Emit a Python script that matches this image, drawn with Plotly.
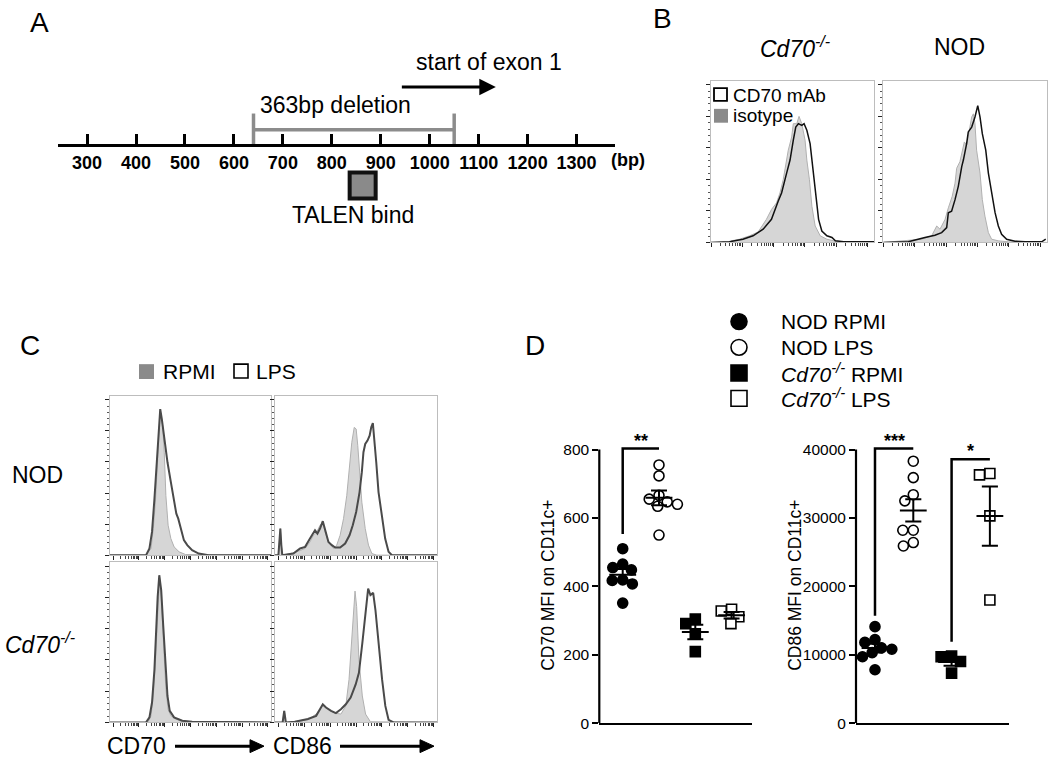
import numpy as np
import plotly.graph_objects as go

W, H = 1050, 768
FONT = "Liberation Sans, Arial, sans-serif"

# ---------------- data ----------------
# panel A (bp)
bp_ticks = [300, 400, 500, 600, 700, 800, 900, 1000, 1100, 1200, 1300]
deletion_bp = [640, 1050]
exon_arrow_bp = [940, 1135]
talen_bp = 863

# panel B histograms (x: channel 0-100, y: % of box height)
b_ko_iso_x = [0, 11.3, 12.4, 17.5, 23.7, 28.9, 34.0, 37.1, 40.2, 42.3, 44.3, 46.4, 47.4, 49.5, 50.5, 52.6, 54.0, 55.7, 57.7, 58.8, 60.4, 61.9, 63.9, 67.0, 71.1, 75.3, 79.4, 100]
b_ko_iso_y = [0, 0, 1, 2, 4.1, 6.5, 14.3, 20.4, 24.5, 30.6, 38.8, 53.1, 57.1, 65.3, 73.5, 73.5, 78, 73.5, 63.3, 51, 38.8, 22.4, 10.2, 4.1, 2, 1, 0, 0]
b_ko_mab_x = [0, 11.3, 19.6, 25.8, 32, 37.1, 41.2, 43.3, 46.4, 48.5, 50.5, 52, 53.6, 55.7, 57.1, 58.8, 60.8, 62.9, 64.5, 66, 68, 71.1, 74.2, 76.3, 81.4, 100]
b_ko_mab_y = [0, 0.4, 2, 4.1, 8.2, 14.3, 25.5, 30.6, 42.9, 51, 63.3, 71.4, 73.5, 72.4, 73.5, 69.4, 61.2, 42.9, 26.5, 14.3, 7.1, 4.1, 3.1, 1, 0.4, 0.4]
b_nod_iso_x = [0, 15.3, 23.5, 29.6, 32.7, 34.7, 37.8, 39.8, 42.2, 43.9, 44.9, 46.9, 48.4, 49.6, 51, 52.4, 54.1, 55.1, 56.1, 57.1, 59.2, 60.6, 62.2, 64.3, 66.3, 70.4, 76.5, 100]
b_nod_iso_y = [0, 1, 2, 4.1, 10.2, 8.2, 14.3, 21.4, 28.6, 36.7, 45.9, 50, 57.1, 62.2, 60.2, 69.4, 77.6, 79.6, 73.5, 57.1, 42.9, 26.5, 16.3, 6.1, 2, 1, 0.4, 0]
b_nod_mab_x = [0, 15.3, 25.5, 31.6, 35.7, 38.8, 39.8, 41.8, 43.9, 45.9, 48, 49, 51, 52, 54.1, 56.1, 57.8, 59.2, 60.6, 62.7, 64.3, 66.3, 68.4, 70.4, 72.4, 75.5, 80.6, 86.7, 96.9, 99.4]
b_nod_mab_y = [0, 0.4, 3.1, 4.5, 6.1, 9.2, 18.4, 19.4, 26.5, 34.7, 46.9, 51, 61.2, 68.4, 71.4, 77.6, 84.7, 77.6, 67.3, 57.1, 42.9, 30.6, 18.4, 10.2, 5.1, 2, 0.8, 0.4, 0.4, 2]

# panel C histograms
c_nod70_rpmi_x = [0, 22.4, 25.5, 26.9, 28.2, 29.2, 30.2, 31.2, 32.7, 33.7, 34.7, 36.1, 37.8, 39.8, 42.9, 46.9, 100]
c_nod70_rpmi_y = [0, 0, 4.2, 16.7, 33.3, 54.2, 75, 90.6, 81.3, 64.6, 37.5, 18.8, 10.4, 5.2, 2.1, 0.4, 0]
c_nod70_lps_x = [0, 22.4, 24.5, 26.1, 27.6, 29, 30.2, 31.2, 32.2, 33.7, 35.7, 37.8, 39.8, 41.2, 42.4, 43.9, 45.9, 48, 51, 55.1, 61.2, 100]
c_nod70_lps_y = [0, 0, 4.2, 14.6, 35.4, 60.4, 81.3, 91.7, 85.4, 72.9, 58.3, 45.8, 35.4, 26, 22.9, 16.7, 9.4, 6.3, 3.1, 1, 0, 0]
c_nod86_rpmi_x = [0, 2.1, 2.7, 3.3, 3.9, 4.5, 7.2, 13.4, 18.6, 21.6, 23.7, 25.8, 27.8, 29.5, 30.9, 33, 36.1, 38.1, 40.2, 42.3, 44.3, 46, 47.4, 48.9, 50.1, 51.1, 52.2, 53.6, 55.7, 57.7, 59.8, 62.9, 100]
c_nod86_rpmi_y = [0, 0, 8.3, 16.7, 6.3, 0, 0.4, 2.1, 4.2, 8.3, 12.5, 14.6, 18.8, 20.8, 14.6, 8.3, 4.2, 6.3, 12.5, 22.9, 37.5, 54.2, 70.8, 80.2, 79.2, 68.8, 52.1, 33.3, 16.7, 6.3, 1, 0, 0]
c_nod86_lps_x = [0, 2.1, 2.7, 3.3, 3.9, 4.5, 7.2, 11.3, 15.5, 18.6, 21.6, 23.7, 24.7, 26.2, 27.8, 29.5, 30.9, 33, 35.1, 37.1, 40.2, 43.3, 46, 48, 50.1, 52.2, 53.6, 54.6, 55.7, 57.1, 58.4, 59.4, 60.4, 61.2, 62.5, 63.9, 66, 68, 70.1, 72.2, 100]
c_nod86_lps_y = [0, 0, 8.3, 16.7, 6.3, 0, 0.4, 1, 4.2, 5.2, 10.4, 14.6, 15.6, 13.5, 16.7, 21.3, 16.7, 8.3, 6.3, 4.8, 4.8, 7.3, 12.5, 18.8, 27.1, 39.6, 52.1, 64.6, 69.8, 71.9, 75, 80.2, 82.9, 75, 58.3, 39.6, 22.9, 10.4, 2.1, 0, 0]
c_ko70_rpmi_x = [0, 23.5, 25.5, 26.9, 28.2, 29.2, 30, 30.8, 31.6, 32.7, 33.7, 34.7, 36.1, 37.8, 40.8, 44.9, 100]
c_ko70_rpmi_y = [0, 0, 4.1, 16.5, 37.1, 59.8, 78.4, 91.1, 82.5, 61.9, 39.2, 20.6, 8.2, 4.1, 2.1, 0.4, 0]
c_ko70_lps_x = [0, 22.4, 24.5, 26.1, 27.6, 28.6, 29.6, 30.6, 31.8, 33.1, 34.3, 35.7, 37.1, 39.8, 44.9, 51, 100]
c_ko70_lps_y = [0, 0, 3.1, 12.4, 33, 57.7, 78.4, 91.8, 82.5, 59.8, 37.1, 16.5, 7.2, 3.1, 1, 0.4, 0]
c_ko86_rpmi_x = [0, 4.7, 5.7, 6.7, 12.2, 20.3, 25.4, 29.5, 32.5, 36.6, 40.7, 43.7, 45.7, 47.4, 48.4, 49.4, 50.4, 51.8, 53.9, 55.9, 58.9, 100]
c_ko86_rpmi_y = [0, 0, 7.2, 0, 0.4, 1.6, 5.2, 10.3, 8.7, 5.8, 5.2, 10.3, 26.8, 55.7, 72.2, 81.9, 72.2, 39.2, 16.5, 5.2, 0.4, 0]
c_ko86_lps_x = [0, 4.7, 5.7, 6.7, 12.2, 20.3, 25.4, 27.4, 29.5, 31.5, 34.6, 37.6, 40.7, 43.7, 46.7, 49.8, 51.8, 53.9, 55.9, 57.5, 58.9, 60.6, 62, 64, 66.1, 68.1, 70.1, 73.2, 100]
c_ko86_lps_y = [0, 0, 7.2, 0, 0.4, 2.1, 4.1, 7.2, 11.3, 9.3, 7.2, 5.8, 8.2, 11.3, 15.5, 23.7, 30.9, 49.5, 70.1, 83.5, 79.4, 80.8, 70.1, 47.4, 26.8, 10.3, 1.6, 0, 0]

# panel D (MFI on CD11c+)
groups = ["NOD RPMI", "NOD LPS", "<i>Cd70<sup>-/-</sup></i> RPMI", "<i>Cd70<sup>-/-</sup></i> LPS"]
cd70_mfi = [
    [510, 465, 455, 448, 419, 417, 407, 351],
    [755, 723, 666, 655, 647, 640, 634, 550],
    [304, 291, 261, 209],
    [333, 328, 311, 291],
]
cd86_mfi = [
    [14100, 12200, 11800, 11000, 10800, 10300, 9700, 7800],
    [38300, 35900, 33400, 32500, 28200, 28200, 26400, 25900],
    [9800, 9700, 9000, 7300],
    [36500, 36300, 30300, 18000],
]
cd70_brackets = [(1, 2, 553, 803, "**")]
cd86_brackets = [(1, 2, 15700, 40150, "***"), (3, 4, 11900, 38600, "*")]


# ---------------- helpers ----------------
def fx(px):
    return px / W


def fy(py):
    return 1 - py / H


def dom_x(a, b):
    return [a / W, b / W]


def dom_y(top, bottom):
    return [1 - bottom / H, 1 - top / H]


annotations = []
shapes = []


def text(t, x, y, size, xanchor="center", bold=False, angle=0):
    annotations.append(dict(
        text=t, x=fx(x), y=fy(y), xref="paper", yref="paper", textangle=angle,
        xanchor=xanchor, yanchor="middle", showarrow=False,
        font=dict(size=size, family=FONT, color="black", weight="bold" if bold else "normal"),
    ))


def arrow_paper(x0, x1, y, head=14, half=6.5):
    # shaft + filled head, in page pixels
    shapes.append(dict(type="line", xref="paper", yref="paper",
                       x0=fx(x0), x1=fx(x1 - head + 1), y0=fy(y), y1=fy(y),
                       line=dict(color="black", width=3)))
    path = "M {},{} L {},{} L {},{} Z".format(
        fx(x1), fy(y), fx(x1 - head), fy(y - half), fx(x1 - head), fy(y + half))
    shapes.append(dict(type="path", xref="paper", yref="paper", path=path,
                       fillcolor="black", line=dict(color="black", width=1)))


def key(kind, cx, cy, size, fill, line_color="black", lw=1.5):
    h = size / 2
    shapes.append(dict(type=kind, xref="paper", yref="paper",
                       x0=fx(cx - h), x1=fx(cx + h), y0=fy(cy + h), y1=fy(cy - h),
                       line=dict(color=line_color, width=lw), fillcolor=fill))


def swarm(vals, px_per_unit, d_px, px_per_cat):
    vals = np.asarray(vals, dtype=float)
    order = np.argsort(-vals, kind="stable")
    placed = []
    off = np.zeros(len(vals))
    for i in order:
        y = vals[i] * px_per_unit
        cands = [0.0]
        for px, py in placed:
            dy = abs(py - y)
            if dy < d_px:
                dx = np.sqrt(d_px ** 2 - dy ** 2)
                cands += [px + dx, px - dx]
        cands.sort(key=lambda c: (round(abs(c), 6), c))
        for c in cands:
            if all((c - px) ** 2 + (y - py) ** 2 >= d_px ** 2 - 1e-6 for px, py in placed):
                break
        placed.append((c, y))
        off[i] = c / px_per_cat
    return off


fig = go.Figure()

# ---------------- panel A ----------------
fig.add_trace(go.Scatter(
    x=deletion_bp, y=[16, 16], mode="lines+markers", xaxis="x", yaxis="y",
    line=dict(color="#8c8c8c", width=3.5),
    marker=dict(symbol="line-ns", size=23, line=dict(color="#8c8c8c", width=3.5)),
    showlegend=False, hoverinfo="skip", cliponaxis=False,
))
fig.add_trace(go.Scatter(
    x=[talen_bp], y=[-40.5], mode="markers", xaxis="x", yaxis="y",
    marker=dict(symbol="square", size=26, color="#8a8a8a", line=dict(color="#111111", width=4)),
    showlegend=False, hoverinfo="skip", cliponaxis=False,
))
annotations.append(dict(
    x=exon_arrow_bp[1], y=59, ax=exon_arrow_bp[0], ay=59, xref="x", yref="y", axref="x", ayref="y",
    text="", showarrow=True, arrowhead=2, arrowsize=1.1, arrowwidth=3, arrowcolor="black",
))
text("start of exon 1", 489, 63, 23)
text("363bp deletion", 335, 106, 23)
text("TALEN bind", 353, 217, 23)
text("(bp)", 628, 162, 18, bold=True)

# ---------------- panel B / C histograms ----------------
def log_ticks(period, offset, upto=100):
    major, minor = [], []
    for d in range(8):
        base = offset + d * period
        if base <= upto:
            major.append(base)
        for k in range(2, 10):
            v = base + period * np.log10(k)
            if v <= upto:
                minor.append(v)
    return major, minor


def add_hist(xs, ys, ax, fill=True, line_color="#111111", width=1.5):
    n = str(ax)
    if fill:
        fig.add_trace(go.Scatter(
            x=xs, y=ys, mode="lines", xaxis="x" + n, yaxis="y" + n,
            fill="tozeroy", fillcolor="#d6d6d6", line=dict(color="#b0b0b0", width=1),
            showlegend=False, hoverinfo="skip",
        ))
    else:
        fig.add_trace(go.Scatter(
            x=xs, y=ys, mode="lines", xaxis="x" + n, yaxis="y" + n,
            line=dict(color=line_color, width=width),
            showlegend=False, hoverinfo="skip",
        ))


add_hist(b_ko_iso_x, b_ko_iso_y, 2)
add_hist(b_ko_mab_x, b_ko_mab_y, 2, fill=False)
add_hist(b_nod_iso_x, b_nod_iso_y, 3)
add_hist(b_nod_mab_x, b_nod_mab_y, 3, fill=False)

add_hist(c_nod70_rpmi_x, c_nod70_rpmi_y, 4)
add_hist(c_nod70_lps_x, c_nod70_lps_y, 4, fill=False, line_color="#4a4a4a", width=2)
add_hist(c_nod86_rpmi_x, c_nod86_rpmi_y, 5)
add_hist(c_nod86_lps_x, c_nod86_lps_y, 5, fill=False, line_color="#4a4a4a", width=2)
add_hist(c_ko70_rpmi_x, c_ko70_rpmi_y, 6)
add_hist(c_ko70_lps_x, c_ko70_lps_y, 6, fill=False, line_color="#4a4a4a", width=2)
add_hist(c_ko86_rpmi_x, c_ko86_rpmi_y, 7)
add_hist(c_ko86_lps_x, c_ko86_lps_y, 7, fill=False, line_color="#4a4a4a", width=2)

text("<i>Cd70<sup>-/-</sup></i>", 795, 47, 23)
text("NOD", 959, 47, 23)
# B legend keys
key("rect", 720.5, 95.5, 13, "white", lw=1.8)
key("rect", 721, 117, 14, "#8a8a8a", line_color="#8a8a8a", lw=0)
text("CD70 mAb", 731, 96, 19, xanchor="left")
text("isotype", 731, 117, 19, xanchor="left")

# C legend keys and labels
key("rect", 146.5, 375.5, 15, "#8a8a8a", line_color="#8a8a8a", lw=0)
key("rect", 241, 375, 14, "white", lw=1.6)
text("RPMI", 161, 375, 21, xanchor="left")
text("LPS", 254, 375, 21, xanchor="left")
text("NOD", 10, 480, 23, xanchor="left")
text("<i>Cd70<sup>-/-</sup></i>", 3, 650, 23, xanchor="left")
text("CD70", 105, 754, 23, xanchor="left")
text("CD86", 271, 754, 23, xanchor="left")
arrow_paper(175, 264, 754)
arrow_paper(340, 434, 754)

# ---------------- panel D ----------------
symbols = ["circle", "circle", "square", "square"]
fills = ["black", "white", "black", "white"]


def add_dot_plot(data, ax, px_per_unit, px_per_cat, half_w, cap_w, brackets):
    n = str(ax)
    for i, vals in enumerate(data):
        pos = i + 1
        off = swarm(vals, px_per_unit, 10.5, px_per_cat)
        fig.add_trace(go.Scatter(
            x=pos + off, y=vals, mode="markers", xaxis="x" + n, yaxis="y" + n,
            marker=dict(symbol=symbols[i], size=10, color=fills[i], line=dict(color="black", width=1.6)),
            showlegend=False, hoverinfo="skip", cliponaxis=False,
        ))
    for i, vals in enumerate(data):
        pos = i + 1
        m = float(np.mean(vals))
        s = float(np.std(vals, ddof=1) / np.sqrt(len(vals)))
        fig.add_trace(go.Scatter(
            x=[pos - half_w, pos + half_w, None, pos - cap_w, pos + cap_w, None, pos, pos, None, pos - cap_w, pos + cap_w],
            y=[m, m, None, m + s, m + s, None, m + s, m - s, None, m - s, m - s],
            mode="lines", xaxis="x" + n, yaxis="y" + n, line=dict(color="black", width=2),
            showlegend=False, hoverinfo="skip",
        ))
    for a, b, lo, top, lab in brackets:
        fig.add_trace(go.Scatter(
            x=[a, a, b], y=[lo, top, top], mode="lines", xaxis="x" + n, yaxis="y" + n,
            line=dict(color="black", width=2.5), showlegend=False, hoverinfo="skip",
        ))
        annotations.append(dict(
            x=(a + b) / 2, y=top, xref="x" + n, yref="y" + n, text=lab, showarrow=False,
            yanchor="bottom", yshift=-4, font=dict(size=18, family=FONT, color="black", weight="bold"),
        ))


add_dot_plot(cd70_mfi, 8, 276.4 / 800, 36.3, 0.37, 0.22, cd70_brackets)
add_dot_plot(cd86_mfi, 9, 276.4 / 40000, 38.3, 0.35, 0.21, cd86_brackets)

# D legend
legend_rows = [325, 351, 377, 402.6]
for i, name in enumerate(groups):
    kind = "circle" if symbols[i] == "circle" else "rect"
    key(kind, 739, legend_rows[i], 16, fills[i], lw=1.6)
    text(name, 779, legend_rows[i], 21, xanchor="left")

text("CD70 MFI on CD11c+", 548, 592, 17.5, angle=-90)
text("CD86 MFI on CD11c+", 795, 592, 17.5, angle=-90)

# panel letters
text("A", 39, 23, 28)
text("B", 662, 19, 28)
text("C", 30, 349, 28)
text("D", 535, 349, 28)

# ---------------- axes ----------------
b_major, b_minor = log_ticks(19.2, 0)
c_major, c_minor = log_ticks(16, 2)
y_major = [0, 19.5, 39, 58.5, 78, 97.5]
y_minor = [v + k * 3.9 for v in y_major for k in range(1, 5) if v + k * 3.9 < 100]


def flow_x(dom, anchor, major, minor):
    return dict(domain=dom, range=[0, 100], anchor=anchor, showgrid=False, zeroline=False,
                showline=True, mirror=True, linecolor="#bdbdbd", linewidth=1,
                ticks="outside", tickvals=major, ticklen=4, tickwidth=1.2, tickcolor="#222",
                showticklabels=False,
                minor=dict(tickvals=minor, ticks="outside", ticklen=2.5, tickwidth=1, tickcolor="#444"))


def flow_y(dom, anchor):
    return dict(domain=dom, range=[0, 100], anchor=anchor, showgrid=False, zeroline=False,
                showline=True, mirror=True, linecolor="#bdbdbd", linewidth=1,
                ticks="outside", tickvals=y_major, ticklen=4, tickwidth=1.2, tickcolor="#222",
                showticklabels=False,
                minor=dict(tickvals=y_minor, ticks="outside", ticklen=2, tickwidth=1, tickcolor="#555"))


# dot plots: the y range runs a little past the top tick so the brackets fit;
# the visible axis line is drawn only up to the top tick
D_TOP, D_ZERO, D_EXTRA = 454.3, 730.7, 16


def dot_y(anchor, top_tick, step):
    span = top_tick * (D_ZERO - D_TOP + D_EXTRA) / (D_ZERO - D_TOP)
    return dict(domain=dom_y(D_TOP - D_EXTRA, D_ZERO), range=[0, span], anchor=anchor,
                showgrid=False, zeroline=False, showline=False,
                ticks="outside", ticklen=6, tickwidth=2, tickcolor="black",
                tickvals=list(range(0, top_tick + 1, step)), tickformat="d",
                tickfont=dict(size=15.5, family=FONT, color="black"))


def dot_x(dom, anchor, rng):
    return dict(domain=dom, range=rng, anchor=anchor, showgrid=False, zeroline=False,
                showline=True, linecolor="black", linewidth=2.2, ticks="", showticklabels=False)


for ax, top_tick in [("8", 800), ("9", 40000)]:
    frac = (D_ZERO - D_TOP) / (D_ZERO - D_TOP + D_EXTRA)
    shapes.append(dict(type="line", xref="x" + ax + " domain", yref="y" + ax + " domain",
                       x0=0, x1=0, y0=0, y1=frac, line=dict(color="black", width=2.2)))

fig.update_layout(
    width=W, height=H, margin=dict(l=0, r=0, t=0, b=0),
    paper_bgcolor="white", plot_bgcolor="rgba(0,0,0,0)",
    font=dict(family=FONT, color="black"),
    showlegend=False,
    xaxis=dict(domain=dom_x(57.7, 614.5), range=[240, 1377.5], anchor="free", position=fy(147),
               showgrid=False, zeroline=False,
               showline=True, linecolor="black", linewidth=3, ticks="inside", ticklen=10, tickwidth=2.5,
               tickcolor="black", tickvals=bp_ticks, ticktext=[str(v) for v in bp_ticks],
               tickfont=dict(size=18, family=FONT, color="black", weight="bold")),
    yaxis=dict(domain=dom_y(40, 235), range=[-88, 107], anchor="x", visible=False,
               showgrid=False, zeroline=False),
    xaxis2=flow_x(dom_x(711, 874), "y2", b_major, b_minor),
    yaxis2=flow_y(dom_y(81.7, 245), "x2"),
    xaxis3=flow_x(dom_x(883.3, 1046.7), "y3", b_major, b_minor),
    yaxis3=flow_y(dom_y(81.7, 245), "x3"),
    xaxis4=flow_x(dom_x(110, 271), "y4", c_major, c_minor),
    yaxis4=flow_y(dom_y(400, 561), "x4"),
    xaxis5=flow_x(dom_x(275, 437), "y5", c_major, c_minor),
    yaxis5=flow_y(dom_y(400, 561), "x5"),
    xaxis6=flow_x(dom_x(110, 271), "y6", c_major, c_minor),
    yaxis6=flow_y(dom_y(568, 730), "x6"),
    xaxis7=flow_x(dom_x(275, 437), "y7", c_major, c_minor),
    yaxis7=flow_y(dom_y(568, 730), "x7"),
    xaxis8=dot_x(dom_x(599.3, 751.7), "y8", [0.355, 4.554]),
    yaxis8=dot_y("x8", 800, 200),
    xaxis9=dot_x(dom_x(856, 1009.3), "y9", [0.504, 4.507]),
    yaxis9=dot_y("x9", 40000, 10000),
    annotations=annotations,
    shapes=shapes,
)

fig.write_html("out.html", config={"displayModeBar": False},
               post_script="document.body.style.margin='0px';")
